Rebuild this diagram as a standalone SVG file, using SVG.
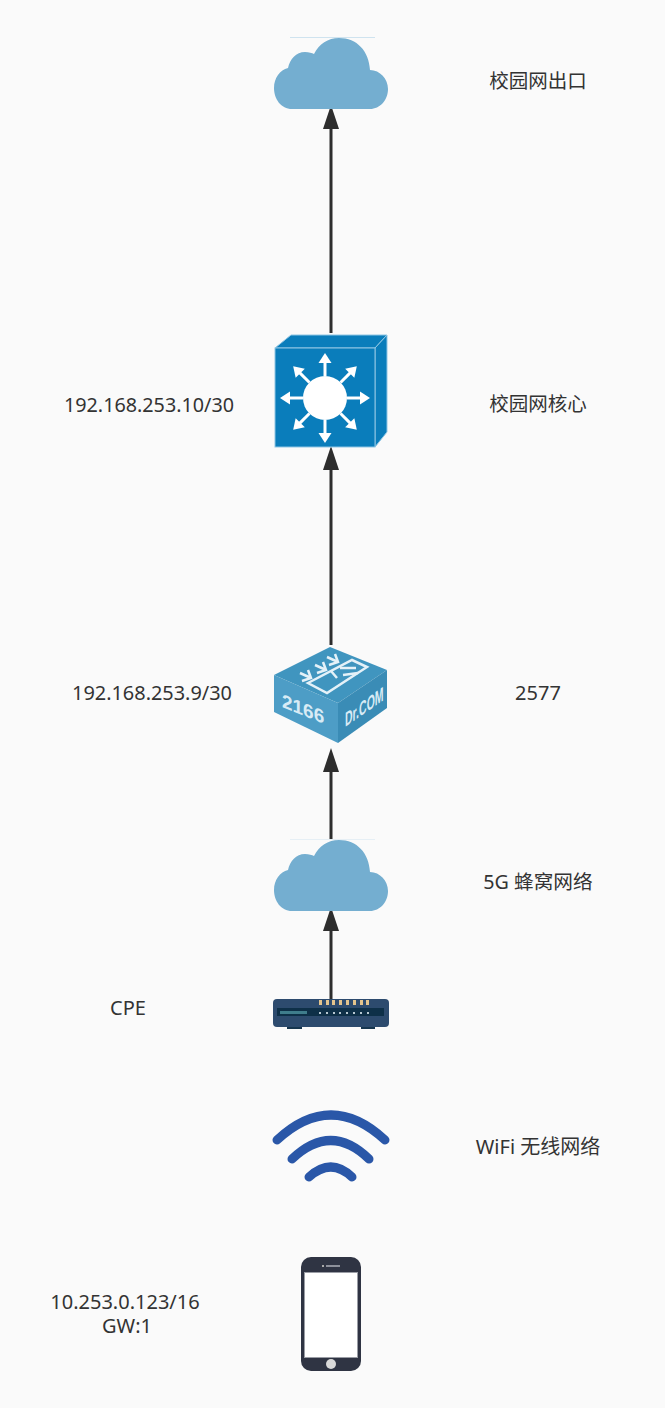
<svg xmlns="http://www.w3.org/2000/svg" width="665" height="1408" viewBox="0 0 665 1408">
<style>
.t{font-family:"Noto Sans","Noto Sans CJK SC",sans-serif;font-size:20px;fill:#333;text-anchor:middle}
.cj{font-size:19.5px}
.c{fill:#74aed0}
.l{stroke:#2d2d2d;stroke-width:3;fill:none}
.h{fill:#2d2d2d}
.w{stroke:#fff;stroke-width:3;fill:none}
.wf{fill:#fff}
.a{stroke:#2a57a8;stroke-width:9;stroke-linecap:round;fill:none}
.ic{stroke:#e4f1f8;fill:none;stroke-width:2.500}
.led{fill:#e3c48d}
.dot{fill:#b7c8d2}
</style>
<defs>
<path id="cloud" class="c" d="M292 109C281 109 274 99 274 88C274 78 280 70 288 68C290 59 296 52 305 52C309 52 312 53 314 54C319 44 328 38 339 38C357 38 369 51 370 70C380 70 388 79 388 89C388 100 380 109 370 109Z"/>
<g id="arm"><path class="w" d="M0 -22V-37"/><path class="wf" d="M0 -45L6.500 -35H-6.500Z"/></g>
<path id="feed" class="ic" d="M300 673L311 678M302 681L311 678L308 670"/>
</defs>
<rect width="665" height="1408" fill="#fafafa"/>
<g id="connectors">
<path class="l" d="M331 333V129"/><path class="h" d="M331 105L339 129H323Z"/>
<path class="l" d="M331 645V470"/><path class="h" d="M331 446L339 470H323Z"/>
<path class="l" d="M331 840V772"/><path class="h" d="M331 748L339 772H323Z"/>
<path class="l" d="M331 1000V931"/><path class="h" d="M331 907L339 931H323Z"/>
</g>
<g id="exit-cloud"><use href="#cloud"/><path d="M290 37.500H375" stroke="#cfe3ef" stroke-width="1"/></g>
<g id="core-switch">
<path d="M275 348L291 335H387L375 348Z" fill="#0a7dbb" stroke="#8fc6e4" stroke-width="1"/>
<path d="M375 348L387 335V432L375 447Z" fill="#0a7dbb" stroke="#8fc6e4" stroke-width="1"/>
<rect x="275" y="348" width="100" height="99" fill="#0a7dbb" stroke="#8fc6e4" stroke-width="1"/>
<circle cx="325" cy="398" r="22" fill="#fff"/>
<g transform="translate(325 398)">
<use href="#arm"/><use href="#arm" transform="rotate(45)"/><use href="#arm" transform="rotate(90)"/><use href="#arm" transform="rotate(135)"/><use href="#arm" transform="rotate(180)"/><use href="#arm" transform="rotate(225)"/><use href="#arm" transform="rotate(270)"/><use href="#arm" transform="rotate(315)"/>
</g>
</g>
<g id="drcom">
<path d="M330 647L387 670L338 703L274 675Z" fill="#4095bf"/>
<path d="M274 675L338 703V743L274 712Z" fill="#4d9dc6"/>
<path d="M338 703L387 670V708L338 743Z" fill="#3a8cb6"/>
<path class="ic" d="M308 683L352 660L367 667L327 693Z"/>
<path class="ic" d="M331 671L337 678M340 668H356M343 675L358 673"/>
<use href="#feed"/><use href="#feed" x="15" y="-8"/><use href="#feed" x="27" y="-16"/>
<text transform="matrix(1 .4 0 1 282 707)" font-family="Liberation Sans,sans-serif" font-size="19" font-weight="bold" fill="#d8ebf5">2166</text>
<text transform="matrix(.527 -.365 0 1 345 727)" font-family="Liberation Sans,sans-serif" font-size="20" font-weight="bold" fill="#d8ebf5">Dr.COM</text>
</g>
<g id="cellular-cloud"><use href="#cloud" y="802"/><path d="M290 839.500H375" stroke="#e6eff5" stroke-width="1"/></g>
<g id="cpe">
<rect x="287" y="1026" width="15" height="3" fill="#16364f"/><rect x="361" y="1026" width="14" height="3" fill="#16364f"/>
<rect x="273" y="999" width="116" height="28" rx="4" fill="#2d4b6e"/>
<rect x="277" y="1008" width="107" height="8" fill="#0e3048"/>
<rect x="280" y="1011" width="27" height="3" fill="#3f7d8c"/>
<g class="led"><rect x="319" y="1000" width="3" height="5"/><rect x="326" y="1000" width="3" height="5"/><rect x="332" y="1000" width="3" height="5"/><rect x="339" y="1000" width="3" height="5"/><rect x="346" y="1000" width="3" height="5"/><rect x="353" y="1000" width="3" height="5"/><rect x="360" y="1000" width="3" height="5"/><rect x="366" y="1000" width="3" height="5"/></g>
<g class="dot"><rect x="319" y="1012" width="2" height="2"/><rect x="326" y="1012" width="2" height="2"/><rect x="333" y="1012" width="2" height="2"/><rect x="339" y="1012" width="2" height="2"/><rect x="346" y="1012" width="2" height="2"/><rect x="353" y="1012" width="2" height="2"/><rect x="360" y="1012" width="2" height="2"/><rect x="367" y="1012" width="2" height="2"/></g>
</g>
<g id="wifi">
<path class="a" d="M277 1140Q331 1090 385 1140"/>
<path class="a" d="M292 1159Q331 1122 369 1159"/>
<path class="a" d="M309 1177Q331 1157 352 1177"/>
</g>
<g id="phone">
<rect x="301" y="1257" width="60" height="114" rx="10" fill="#2f3443"/>
<rect x="304.500" y="1272.500" width="53" height="85" fill="#fff" stroke="#9a9da5" stroke-width="1"/>
<circle cx="331" cy="1364" r="5" fill="#d9d9d9"/>
<rect x="322" y="1265" width="2" height="2" fill="#aaa"/><rect x="326" y="1265" width="14" height="2" fill="#8d909a"/>
</g>
<g id="labels">
<text class="t cj" x="538" y="88">校园网出口</text>
<text class="t cj" x="538" y="411">校园网核心</text>
<text class="t" x="149" y="412" textLength="170" lengthAdjust="spacingAndGlyphs">192.168.253.10/30</text>
<text class="t" x="152" y="700" textLength="160" lengthAdjust="spacingAndGlyphs">192.168.253.9/30</text>
<text class="t" x="538" y="700">2577</text>
<text class="t" x="538" y="889" style="font-size:19.700px">5G 蜂窝网络</text>
<text class="t" x="128" y="1015">CPE</text>
<text class="t" x="538" y="1154">WiFi 无线网络</text>
<text class="t" y="1309"><tspan x="125">10.253.0.123/16</tspan><tspan x="127" dy="24">GW:1</tspan></text>
</g>
</svg>
